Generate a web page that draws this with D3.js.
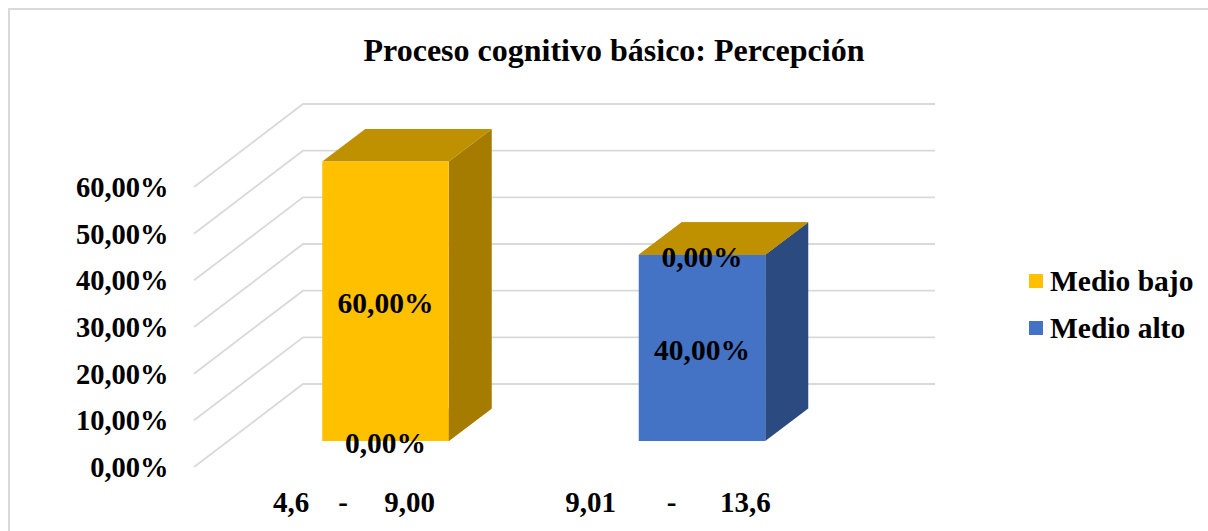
<!DOCTYPE html>
<html>
<head>
<meta charset="utf-8">
<script src="https://cdn.jsdelivr.net/npm/d3@7"></script>
<style>
html, body { margin: 0; padding: 0; background: #fff; }
svg { display: block; }
text { font-family: "Liberation Serif", serif; font-weight: bold; fill: #000; }
</style>
</head>
<body>
<svg id="chart" width="1208" height="531"></svg>
<script>
// data
const categories = ["4,6    -     9,00", "9,01       -      13,6"];
const medioBajo = [60, 0];
const medioAlto = [0, 40];
const yTicks = [0, 10, 20, 30, 40, 50, 60];
const seriesNames = ["Medio bajo", "Medio alto"];
const chartTitle = "Proceso cognitivo básico: Percepción";

const width = 1208, height = 531;
const depthX = 43, depthY = -32.5;      // bar depth
const wallX = 109, wallY = -83;         // left wall of the 3d box

const fmt = v => v.toFixed(2).replace(".", ",") + "%";

const colors = {
    "Medio bajo": { front: "#FFC000", top: "#BF9000", side: "#A67C00" },
    "Medio alto": { front: "#4472C4", top: "#BF9000", side: "#2B4A80" }
};

const svg = d3.select("#chart");

// outer frame, only top and left are visible in the crop
svg.append("path")
    .attr("d", d3.line()([[9, height], [9, 9], [width, 9]]))
    .attr("fill", "none")
    .attr("stroke", "#D9D9D9")
    .attr("stroke-width", 2);

// scales
const yFront = d3.scaleLinear().domain([0, 60]).range([441, 161.5]);
const yLeft = d3.scaleLinear().domain([0, 60]).range([467, 187]);
const xBand = d3.scaleBand().domain(categories).range([227.25, 860.25]).paddingInner(0.5).paddingOuter(0.25);
const xLabel = d3.scaleBand().domain(categories).range([197, 825]);

// gridlines: left wall + back wall
const line = d3.line();
svg.append("g").selectAll("path")
    .data(yTicks)
    .join("path")
    .attr("d", d => {
        const y = yLeft(d);
        return line([[194, y], [194 + wallX, y + wallY], [935, y + wallY]]);
    })
    .attr("fill", "none")
    .attr("stroke", "#D9D9D9")
    .attr("stroke-width", 1.8);

// stacked bars, Medio alto at the bottom so its zero segment sits under the gold one
const rows = categories.map((c, i) => ({ cat: c, "Medio bajo": medioBajo[i], "Medio alto": medioAlto[i] }));
const stack = d3.stack().keys(["Medio alto", "Medio bajo"])(rows);

const barW = 126.5;
const barX = c => xBand(c) + xBand.bandwidth() / 2 - barW / 2;

stack.forEach(s => {
    const col = colors[s.key];
    const g = svg.append("g").attr("class", "series");
    s.forEach(d => {
        const x0 = barX(d.data.cat), x1 = x0 + barW;
        const yB = yFront(d[0]), yT = yFront(d[1]);
        g.append("path")
            .attr("d", line([[x1, yB], [x1 + depthX, yB + depthY], [x1 + depthX, yT + depthY], [x1, yT]]) + "Z")
            .attr("fill", col.side);
        g.append("path")
            .attr("d", line([[x0, yT], [x0 + depthX, yT + depthY], [x1 + depthX, yT + depthY], [x1, yT]]) + "Z")
            .attr("fill", col.top);
        g.append("rect")
            .attr("x", x0).attr("y", yT)
            .attr("width", barW).attr("height", yB - yT)
            .attr("fill", col.front);
    });
});

// data labels
stack.forEach(s => {
    svg.append("g").selectAll("text")
        .data(s)
        .join("text")
        .attr("x", d => barX(d.data.cat) + barW / 2)
        .attr("y", d => (yFront(d[0]) + yFront(d[1])) / 2 + 2)
        .attr("text-anchor", "middle")
        .attr("dominant-baseline", "central")
        .attr("font-size", 29.5)
        .text(d => fmt(d[1] - d[0]));
});

// y axis
const yAxis = svg.append("g")
    .attr("transform", "translate(168.5,0)")
    .call(d3.axisLeft(yLeft).tickValues(yTicks).tickSize(0).tickPadding(0).tickFormat(fmt));
yAxis.select(".domain").remove();
yAxis.selectAll("text")
    .attr("font-size", 28.5)
    .attr("dy", null)
    .attr("y", 0)
    .attr("dominant-baseline", "central");
yAxis.attr("font-family", null).attr("font-size", null);

// category labels
const xAxis = svg.append("g")
    .attr("transform", "translate(0,502)")
    .call(d3.axisBottom(xLabel).tickSize(0).tickPadding(0));
xAxis.select(".domain").remove();
xAxis.attr("font-family", null).attr("font-size", null);
xAxis.selectAll("text")
    .attr("font-size", 29)
    .attr("dy", null)
    .attr("y", 0)
    .attr("dominant-baseline", "central")
    .style("white-space", "pre");

// title
svg.append("text")
    .attr("x", 614).attr("y", 50)
    .attr("text-anchor", "middle")
    .attr("dominant-baseline", "central")
    .attr("font-size", 32)
    .text(chartTitle);

// legend
const legendY = d3.scalePoint().domain(seriesNames).range([281, 328]);
const legend = svg.append("g").selectAll("g")
    .data(seriesNames)
    .join("g")
    .attr("transform", d => `translate(1029,${legendY(d)})`);
legend.append("rect")
    .attr("x", 0).attr("y", -7)
    .attr("width", 14).attr("height", 14)
    .attr("fill", d => colors[d].front);
legend.append("text")
    .attr("x", 21).attr("y", 0)
    .attr("dominant-baseline", "central")
    .attr("font-size", 29.5)
    .text(d => d);
</script>
</body>
</html>
